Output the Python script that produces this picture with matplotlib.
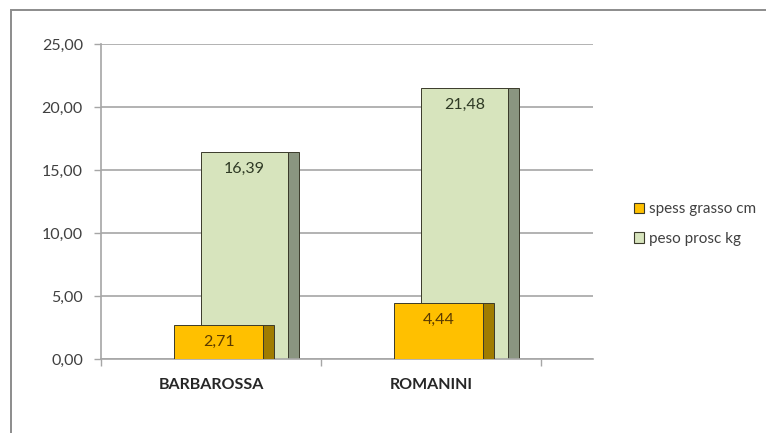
import matplotlib
matplotlib.use('Agg')
import matplotlib.pyplot as plt
from matplotlib.patches import Rectangle, Patch
from matplotlib.ticker import FuncFormatter, FixedLocator

# ── dati ─────────────────────────────────────────────
categories = ['BARBAROSSA', 'ROMANINI']
spess_grasso = [2.71, 4.44]      # cm
peso_prosc = [16.39, 21.48]      # kg
series_names = ['spess grasso cm', 'peso prosc kg']

# ── stile ────────────────────────────────────────────
ORANGE = '#FFC000'
ORANGE_SIDE = '#A07C00'
GREEN = '#D7E4BD'
GREEN_SIDE = '#8A9580'
EDGE = '#3A3A2A'
GRID = '#A6A6A6'
TXT = '#404040'

plt.rcParams['font.family'] = ['Lato', 'DejaVu Sans']

fig = plt.figure(figsize=(7.66, 4.33), dpi=100)
W, H = 766, 433

# cornice esterna
fig.patches.append(Rectangle((11 / W, -0.05), 1.0, 1 - 10 / H + 0.05,
                             transform=fig.transFigure, fill=False,
                             edgecolor='#8C8C8C', lw=1.4))

ax = fig.add_axes([101 / W, 1 - 359 / H, (593 - 101) / W, (359 - 44) / H])

x = range(len(categories))
side_w = 0.05

# barre verdi (dietro)
for i, v in zip(x, peso_prosc):
    left = i - 0.045
    ax.bar(left, v, width=0.395, align='edge', color=GREEN,
           edgecolor=EDGE, lw=0.7, zorder=2)
    ax.bar(left + 0.395, v, width=side_w, align='edge', color=GREEN_SIDE,
           edgecolor=EDGE, lw=0.7, zorder=2)
    ax.annotate(f'{v:.2f}'.replace('.', ','), (left + 0.395 / 2, v),
                xytext=(0, -12), textcoords='offset points',
                ha='center', va='center', fontsize=11.5, color='#2F3A25', zorder=5)

# barre arancioni (davanti)
for i, v in zip(x, spess_grasso):
    left = i - 0.168
    ax.bar(left, v, width=0.405, align='edge', color=ORANGE,
           edgecolor=EDGE, lw=0.7, zorder=3)
    ax.bar(left + 0.405, v, width=side_w, align='edge', color=ORANGE_SIDE,
           edgecolor=EDGE, lw=0.7, zorder=3)
    ax.annotate(f'{v:.2f}'.replace('.', ','), (left + 0.405 / 2, v),
                xytext=(0, -12), textcoords='offset points',
                ha='center', va='center', fontsize=11.5, color='#5A3A00', zorder=5)

ax.set_xlim(-0.5, 1.736)
ax.set_ylim(0, 25)
ax.yaxis.set_major_locator(FixedLocator([0, 5, 10, 15, 20, 25]))
ax.yaxis.set_major_formatter(FuncFormatter(lambda v, p: f'{v:.2f}'.replace('.', ',')))
ax.grid(axis='y', color=GRID, lw=1.2, zorder=0)
ax.set_axisbelow(True)

# assi
for s in ['top', 'right']:
    ax.spines[s].set_visible(False)
ax.spines['left'].set_color(GRID)
ax.spines['bottom'].set_color(GRID)
ax.spines['left'].set_linewidth(1.2)
ax.spines['bottom'].set_linewidth(1.2)
ax.tick_params(axis='y', colors=GRID, labelcolor=TXT, labelsize=11.5,
               length=5, width=1, pad=8)

ax.set_xticks([-0.5, 0.5, 1.5])
ax.set_xticklabels([])
ax.set_xticks(list(x), minor=True)
ax.set_xticklabels(categories, minor=True, fontweight='bold',
                   fontsize=11.5, color='#262626')
ax.tick_params(axis='x', which='major', colors=GRID, length=5, width=1)
ax.tick_params(axis='x', which='minor', length=0, pad=14)

# legenda
handles = [Patch(facecolor=ORANGE, edgecolor=EDGE, lw=0.8),
           Patch(facecolor=GREEN, edgecolor=EDGE, lw=0.8)]
fig.legend(handles, series_names, loc='center left',
           bbox_to_anchor=(626 / W, 1 - 224 / H), frameon=False,
           fontsize=11, labelcolor=TXT, handlelength=0.7, handleheight=0.7,
           handletextpad=0.3, labelspacing=1.0, borderpad=0)

fig.savefig('out.png', dpi=100)
